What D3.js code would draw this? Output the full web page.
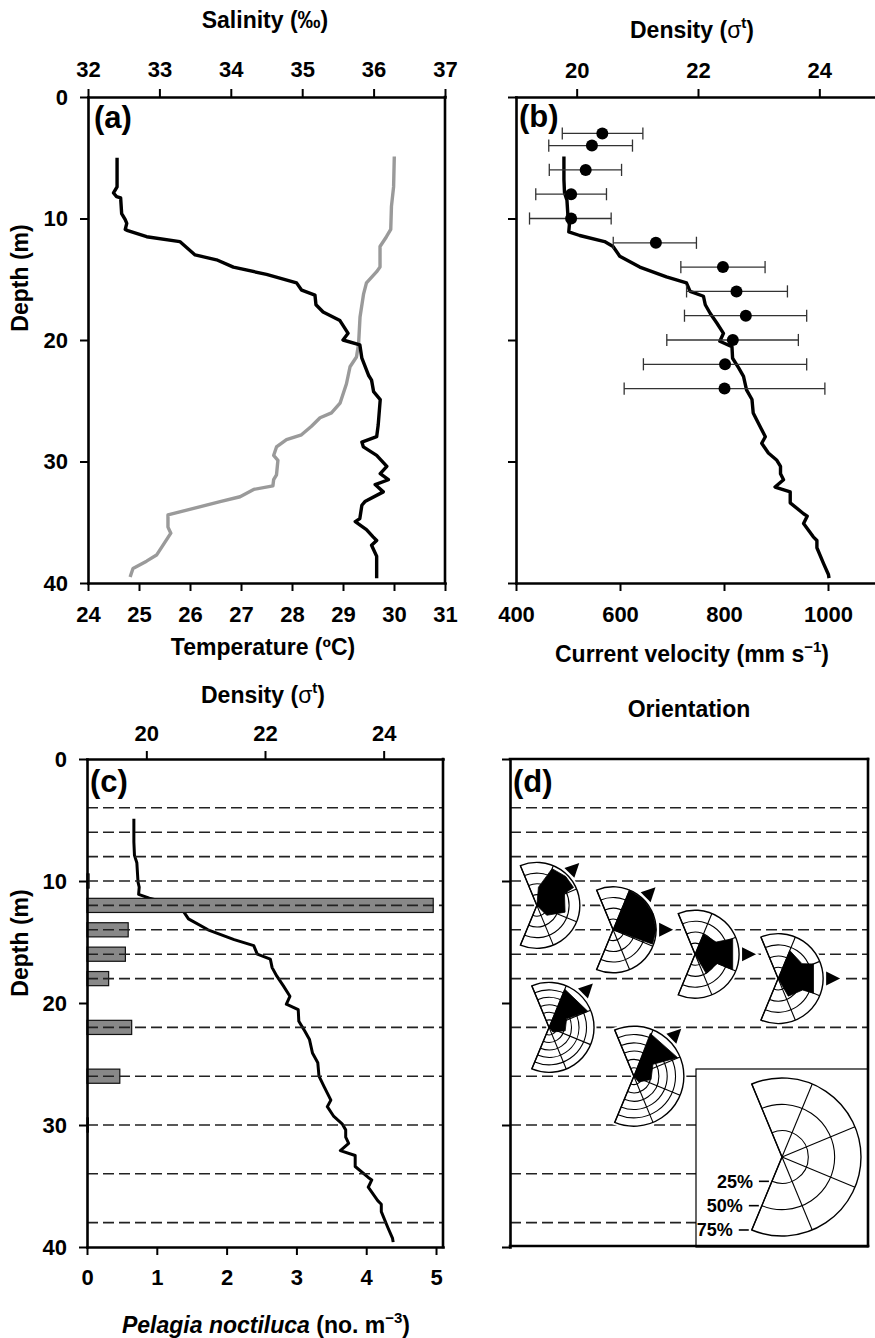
<!DOCTYPE html>
<html>
<head>
<meta charset="utf-8">
<script src="https://cdn.jsdelivr.net/npm/d3@7"></script>
<style>
	body { margin: 0; background: #fff; }
	svg { display: block; }
</style>
</head>
<body>
<svg id="chart" width="875" height="1338"></svg>
<script>
// ---- data ----
const depthTicks = [0, 10, 20, 30, 40];
const tempTicks = [24, 25, 26, 27, 28, 29, 30, 31];
const salTicks = [32, 33, 34, 35, 36, 37];
const densTicks = [20, 22, 24];
const velTicks = [400, 600, 800, 1000];
const pelTicks = [0, 1, 2, 3, 4, 5];

const tempDepth = [5.0,7.4,7.9,8.2,8.3,9.6,10.1,10.4,10.9,11.0,11.5,11.9,13.0,13.4,14.0,14.6,15.3,15.9,16.3,17.1,17.7,18.4,19.45,20.0,20.4,21.5,22.9,23.3,24.25,24.9,27.0,27.96,28.4,28.8,29.5,30.4,31.0,31.5,31.9,32.5,33.3,33.6,34.7,34.95,35.6,36.2,36.5,36.9,37.8,39.6];
const tempC = [24.57,24.57,24.50,24.56,24.64,24.66,24.73,24.76,24.73,24.78,25.15,25.80,26.10,26.52,26.85,27.50,28.09,28.19,28.45,28.47,28.61,28.94,29.10,29.00,29.33,29.37,29.50,29.56,29.60,29.73,29.69,29.66,29.37,29.40,29.66,29.86,29.73,29.89,29.63,29.79,29.43,29.37,29.33,29.24,29.46,29.59,29.66,29.56,29.66,29.66];

const salDepth = [4.9,7.4,9.0,10.9,11.5,12.3,14.0,14.4,15.3,16.2,18.1,20.3,21.4,22.2,23.6,25.2,26.0,26.4,27.1,27.8,28.2,28.8,29.5,29.9,31.1,31.5,32.0,32.3,32.9,33.3,34.4,35.4,35.9,37.7,38.2,38.8,39.5];
const salinity = [36.29,36.28,36.25,36.24,36.18,36.09,36.09,36.04,35.90,35.86,35.81,35.79,35.76,35.67,35.62,35.53,35.41,35.25,35.13,34.99,34.78,34.64,34.60,34.66,34.64,34.60,34.59,34.32,34.13,33.85,33.12,33.12,33.16,32.96,32.82,32.63,32.59];

const densDepth = [4.9,6.8,7.9,8.5,10.1,10.5,11.1,11.4,11.9,12.3,13.1,14.0,14.8,15.3,16.0,16.4,17.1,17.8,18.6,19.45,20.1,20.55,21.5,22.3,23.0,24.1,24.9,26.0,26.9,27.96,28.5,29.3,29.9,30.4,31.0,31.5,32.1,32.5,33.4,34.3,34.5,35.1,36.2,36.5,37.1,38.4,39.3,39.6];
const density = [19.79,19.79,19.80,19.84,19.86,19.88,19.87,20.05,20.46,20.60,20.71,21.04,21.48,21.81,21.87,22.09,22.12,22.20,22.31,22.42,22.36,22.56,22.57,22.67,22.75,22.80,22.89,22.91,23.00,23.11,23.05,23.16,23.30,23.36,23.36,23.41,23.27,23.52,23.52,23.74,23.80,23.74,23.90,23.96,23.96,24.07,24.15,24.16];

const velDepth = [3, 4, 6, 8, 10, 12, 14, 16, 18, 20, 22, 24];
const velMean = [566, 546, 534, 506, 506, 669, 798, 824, 842, 817, 802, 801];
const velLow = [489, 463, 464, 438, 426, 587, 717, 728, 724, 690, 645, 608];
const velHigh = [644, 624, 603, 574, 583, 747, 879, 922, 959, 943, 959, 994];

const netDepth = [4, 6, 8, 10, 12, 14, 16, 18, 22, 26, 30, 34, 38];
const pelagia = [0, 0, 0, 0.03, 4.96, 0.59, 0.55, 0.31, 0.64, 0.47, 0.02, 0, 0];

// orientation roses: depth, scale max (%), frequency polygon [bearing, %], current direction(s)
const roseDepth = [12, 14, 16, 18, 22, 26];
const roseMax = [40, 40, 40, 40, 60, 60];
const roseShape = [
	[[0,0],[5,17],[22.5,37],[45,38],[64,38],[66.5,28],[103.5,27],[135,13]],
	[[0,0],[22.5,40],[45,40],[67.5,40],[90,40],[110,39]],
	[[0,0],[22.5,20],[60,22],[67.5,37],[112.5,37],[112.5,22],[150,20]],
	[[0,0],[22.5,27],[58,25],[67.5,34],[112.5,34],[115,24],[150,18]],
	[[0,0],[22.5,55],[67.5,56],[64,26],[102,22],[140,8]],
	[[0,0],[21,55],[67,57],[58,27],[101,21],[140,9]],
];
const roseCurrent = [[45], [45, 90], [90], [90], [45], [45]];
const legendRings = [25, 50, 75];

// ---- layout ----
const FONT = '"Liberation Sans", Arial, Helvetica, sans-serif';
const svg = d3.select('#chart').attr('font-family', FONT);
const toRad = Math.PI / 180;
const fmt = d3.format('d');

const yA = d3.scaleLinear([0, 40], [97, 583]);
const yC = d3.scaleLinear([0, 40], [759, 1247]);
const xTemp = d3.scaleLinear([24, 31], [88, 445]);
const xSal = d3.scaleLinear([32, 37], [88, 445]);
const xVel = d3.scaleLinear([400, 1100], [516, 880]);
const xDensB = d3.scaleLinear([19, 25], [516, 880]);
const xPel = d3.scaleLinear([0, 5.1], [87, 443]);
const xDensC = d3.scaleLinear([19, 25], [87, 443]);
const xD = d3.scaleLinear([0, 1], [510, 868]);

// rose placement inside panel d (fraction of panel width) and drawn radius
const roseX = [0.075, 0.288, 0.517, 0.749, 0.109, 0.346];
const roseR = [43, 43, 44, 45, 45, 50];

function styleAxis(g, size) {
	g.attr('font-family', FONT).attr('font-size', size || 22).attr('font-weight', 'bold');
	g.select('.domain').attr('stroke', '#000').attr('stroke-width', 2.6).attr('stroke-linecap', 'square');
	g.selectAll('.tick line').attr('stroke', '#000').attr('stroke-width', 2);
	g.selectAll('.tick text').attr('fill', '#000');
	return g;
}
function axis(gen, tx, ty, vals, pad, blank) {
	const a = gen.tickValues(vals).tickSize(8).tickSizeOuter(0).tickPadding(pad)
		.tickFormat(blank ? '' : fmt);
	return styleAxis(svg.append('g').attr('transform', `translate(${tx},${ty})`).call(a));
}
function border(x1, y1, x2, y2) {
	svg.append('line').attr('x1', x1).attr('y1', y1).attr('x2', x2).attr('y2', y2)
		.attr('stroke', '#000').attr('stroke-width', 2.6).attr('stroke-linecap', 'square');
}
function label(x, y, txt) {
	svg.append('text').attr('x', x).attr('y', y).attr('font-size', 31).attr('font-weight', 'bold').text(txt);
}
function title(x, y, parts) {
	const t = svg.append('text').attr('x', x).attr('y', y).attr('text-anchor', 'middle')
		.attr('font-size', 23).attr('font-weight', 'bold');
	parts.forEach(p => {
		const s = t.append('tspan').text(p.t);
		if (p.normal) s.attr('font-weight', 'normal');
		if (p.italic) s.attr('font-style', 'italic');
		if (p.sup) s.attr('font-size', 15).attr('dy', -10);
		if (p.back) s.attr('dy', 10);
	});
	return t;
}
function depthTitle(cy) {
	svg.append('text').attr('transform', `translate(28,${cy}) rotate(-90)`).attr('text-anchor', 'middle')
		.attr('font-size', 23).attr('font-weight', 'bold').text('Depth (m)');
}
const profile = (xs, ys) => d3.line().x(d => xs(d[1])).y(d => ys(d[0]));
const zip = (a, b) => a.map((d, i) => [d, b[i]]);

// ---- panel (a) ----
svg.append('path').datum(zip(salDepth, salinity)).attr('d', profile(xSal, yA))
	.attr('fill', 'none').attr('stroke', '#9a9a9a').attr('stroke-width', 3.4).attr('stroke-linejoin', 'round');
svg.append('path').datum(zip(tempDepth, tempC)).attr('d', profile(xTemp, yA))
	.attr('fill', 'none').attr('stroke', '#000').attr('stroke-width', 3.4).attr('stroke-linejoin', 'round');
axis(d3.axisLeft(yA), 88, 0, depthTicks, 12);
axis(d3.axisBottom(xTemp), 0, 583, tempTicks, 15);
axis(d3.axisTop(xSal), 0, 97, salTicks, 12);
border(445, 97, 445, 583);
label(94, 128, '(a)');
title(265, 28, [{t: 'Salinity (‰)'}]);
title(263, 655, [{t: 'Temperature (ºC)'}]);
depthTitle(278);

// ---- panel (b) ----
svg.append('path').datum(zip(densDepth, density)).attr('d', profile(xDensB, yA))
	.attr('fill', 'none').attr('stroke', '#000').attr('stroke-width', 3.4).attr('stroke-linejoin', 'round');
const vel = velDepth.map((d, i) => ({depth: d, m: velMean[i], lo: velLow[i], hi: velHigh[i]}));
const eb = svg.append('g').attr('stroke', '#333').attr('stroke-width', 1.3);
eb.selectAll('line.h').data(vel).join('line').attr('class', 'h')
	.attr('x1', d => xVel(d.lo)).attr('x2', d => xVel(d.hi)).attr('y1', d => yA(d.depth)).attr('y2', d => yA(d.depth));
['lo', 'hi'].forEach(k => {
	eb.selectAll('line.' + k).data(vel).join('line').attr('class', k)
		.attr('x1', d => xVel(d[k])).attr('x2', d => xVel(d[k]))
		.attr('y1', d => yA(d.depth - 0.5)).attr('y2', d => yA(d.depth + 0.5));
});
svg.append('g').selectAll('circle').data(vel).join('circle')
	.attr('cx', d => xVel(d.m)).attr('cy', d => yA(d.depth)).attr('r', 6).attr('fill', '#000');
axis(d3.axisLeft(yA), 516, 0, depthTicks, 12, true);
axis(d3.axisBottom(xVel), 0, 583, velTicks, 15);
axis(d3.axisTop(xDensB), 0, 97, densTicks, 11);
label(519, 127, '(b)');
title(692, 38, [{t: 'Density ('}, {t: 'σ', normal: true}, {t: 't', sup: true}, {t: ')', back: true}]);
title(692, 662, [{t: 'Current velocity (mm s'}, {t: '−1', sup: true}, {t: ')', back: true}]);

// ---- panel (c) ----
svg.append('path').datum(zip(densDepth, density)).attr('d', profile(xDensC, yC))
	.attr('fill', 'none').attr('stroke', '#000').attr('stroke-width', 3).attr('stroke-linejoin', 'round');
const nets = netDepth.map((d, i) => ({depth: d, v: pelagia[i]}));
const barHalf = 0.58;
svg.append('g').selectAll('rect').data(nets.filter(d => d.v > 0)).join('rect')
	.attr('x', xPel(0)).attr('y', d => yC(d.depth - barHalf))
	.attr('width', d => xPel(d.v) - xPel(0)).attr('height', d => yC(d.depth + barHalf) - yC(d.depth - barHalf))
	.attr('fill', '#888').attr('stroke', '#111').attr('stroke-width', 1.2);
svg.append('g').selectAll('line').data(nets).join('line')
	.attr('x1', xPel.range()[0]).attr('x2', xPel.range()[1]).attr('y1', d => yC(d.depth)).attr('y2', d => yC(d.depth))
	.attr('stroke', '#222').attr('stroke-width', 1.6).attr('stroke-dasharray', '11,5');
axis(d3.axisLeft(yC), 87, 0, depthTicks, 12);
axis(d3.axisBottom(xPel), 0, 1247, pelTicks, 14);
axis(d3.axisTop(xDensC), 0, 759, densTicks, 10);
border(443, 759, 443, 1247);
label(90, 792, '(c)');
title(263, 703, [{t: 'Density ('}, {t: 'σ', normal: true}, {t: 't', sup: true}, {t: ')', back: true}]);
title(266, 1333, [{t: 'Pelagia noctiluca', italic: true}, {t: ' (no. m'}, {t: '−3', sup: true}, {t: ')', back: true}]);
depthTitle(943);

// ---- panel (d) ----
svg.append('g').selectAll('line').data(nets).join('line')
	.attr('x1', xD(0)).attr('x2', xD(1)).attr('y1', d => yC(d.depth)).attr('y2', d => yC(d.depth))
	.attr('stroke', '#222').attr('stroke-width', 1.6).attr('stroke-dasharray', '11,5');

// legend box
const legBox = {x0: 696, y0: 1069};
svg.append('rect').attr('x', legBox.x0).attr('y', legBox.y0)
	.attr('width', xD(1) - legBox.x0).attr('height', yC(40) - legBox.y0)
	.attr('fill', '#fff').attr('stroke', '#000').attr('stroke-width', 1.2);

const fanStart = -22.5, fanEnd = 202.5;
const sectorEdges = [-22.5, 22.5, 67.5, 112.5, 157.5, 202.5];
const pt = (r, b) => [r * Math.sin(b * toRad), -r * Math.cos(b * toRad)];

function drawRose(cx, cy, R, rScale, rings, shape, currents) {
	const g = svg.append('g').attr('transform', `translate(${cx},${cy})`);
	const fan = d3.arc().innerRadius(0).outerRadius(R).startAngle(fanStart * toRad).endAngle(fanEnd * toRad);
	g.append('path').attr('d', fan()).attr('fill', '#fff').attr('stroke', '#fff').attr('stroke-width', 5);
	rings.forEach(v => {
		const r = rScale(v);
		const p = d3.path();
		const [x0, y0] = pt(r, fanStart);
		p.moveTo(x0, y0);
		p.arc(0, 0, r, (fanStart - 90) * toRad, (fanEnd - 90) * toRad);
		g.append('path').attr('d', p.toString()).attr('fill', 'none').attr('stroke', '#000').attr('stroke-width', 1.1);
	});
	sectorEdges.forEach(b => {
		const [x, y] = pt(R, b);
		g.append('line').attr('x1', 0).attr('y1', 0).attr('x2', x).attr('y2', y)
			.attr('stroke', '#000').attr('stroke-width', 1.1);
	});
	if (shape) {
		const poly = d3.lineRadial().angle(d => d[0] * toRad).radius(d => rScale(d[1])).curve(d3.curveLinearClosed);
		g.append('path').attr('d', poly(shape)).attr('fill', '#000').attr('stroke', '#000').attr('stroke-width', 0.8);
	}
	g.append('path').attr('d', fan()).attr('fill', 'none').attr('stroke', '#000').attr('stroke-width', 1.4);
	(currents || []).forEach(b => {
		const tip = pt(R + 17, b);
		const base = pt(R + 3, b);
		const side = [Math.cos(b * toRad) * 7, Math.sin(b * toRad) * 7];
		g.append('path')
			.attr('d', `M${tip}L${base[0] + side[0]},${base[1] + side[1]}L${base[0] - side[0]},${base[1] - side[1]}Z`)
			.attr('fill', '#000').attr('stroke', '#fff').attr('stroke-width', 3).attr('paint-order', 'stroke');
	});
	return g;
}

roseDepth.forEach((d, i) => {
	const rs = d3.scaleLinear([0, roseMax[i]], [0, roseR[i]]);
	drawRose(xD(roseX[i]), yC(d), roseR[i], rs, d3.range(10, roseMax[i], 10), roseShape[i], roseCurrent[i]);
});

// legend rose
const legC = [legBox.x0 + 86, legBox.y0 + 88];
const legScale = d3.scaleLinear([0, 75], [0, 79]);
drawRose(legC[0], legC[1], legScale(75), legScale, legendRings.slice(0, 2), null, null);
legendRings.forEach(v => {
	const [px, py] = pt(legScale(v), fanEnd);
	const x = legC[0] + px, y = legC[1] + py;
	svg.append('line').attr('x1', x - 13).attr('x2', x - 3).attr('y1', y).attr('y2', y)
		.attr('stroke', '#000').attr('stroke-width', 1.6);
	svg.append('text').attr('x', x - 19).attr('y', y).attr('dy', '0.35em').attr('text-anchor', 'end')
		.attr('font-size', 18).attr('font-weight', 'bold').text(v + '%');
});

axis(d3.axisLeft(yC), 510, 0, depthTicks, 12, true);
border(xD(0), 759, xD(1), 759);
border(xD(1), 759, xD(1), 1246);
border(xD(0), 1246, xD(1), 1246);
label(513, 792, '(d)');
title(689, 717, [{t: 'Orientation'}]);
</script>
</body>
</html>
